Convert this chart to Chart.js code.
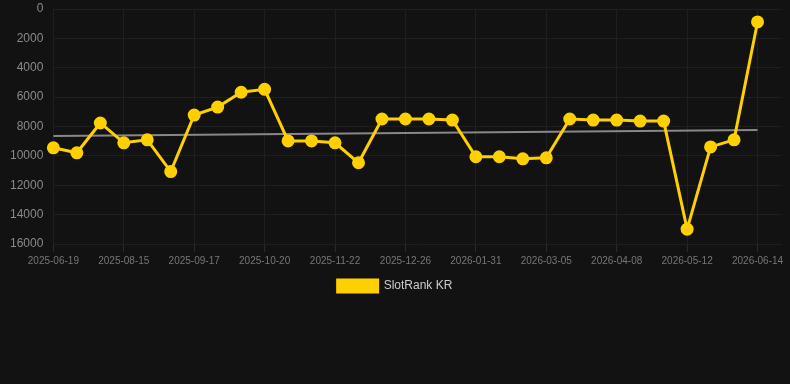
<!DOCTYPE html>
<html>
<head>
<meta charset="utf-8">
<script src="https://cdn.jsdelivr.net/npm/chart.js@4/dist/chart.umd.min.js"></script>
<style>
    html, body { margin: 0; padding: 0; background: #121212; }
    #wrap { width: 790px; height: 384px; }
</style>
</head>
<body>
<div id="wrap"><canvas id="rankChart"></canvas></div>
<script>
// dates on the x axis (last slot is empty, only every third one is labelled)
const dates = [
    "2025-06-19", "2025-06-28", "2025-07-06", "2025-08-15", "2025-08-24", "2025-09-02",
    "2025-09-17", "2025-09-26", "2025-10-08", "2025-10-20", "2025-10-29", "2025-11-10",
    "2025-11-22", "2025-12-01", "2025-12-14", "2025-12-26", "2026-01-05", "2026-01-18",
    "2026-01-31", "2026-02-10", "2026-02-22", "2026-03-05", "2026-03-15", "2026-03-27",
    "2026-04-08", "2026-04-19", "2026-04-30", "2026-05-12", "2026-05-22", "2026-06-02",
    "2026-06-14", "2026-06-25"
];

// rank values
const rankKR = [
    9450, 9790, 7760, 9110, 8910, 11070, 7220, 6680, 5670, 5470,
    8980, 8980, 9110, 10470, 7490, 7490, 7490, 7560, 10060, 10060,
    10200, 10130, 7490, 7560, 7560, 7630, 7630, 14990, 9390, 8910,
    880
];

// trend line end points
const trendStart = 8640;
const trendEnd = 8240;

const yTicks = [0, 2000, 4000, 6000, 8000, 10000, 12000, 14000, 16000];

let rankChart = null;

function drawChart() {
    if (rankChart) rankChart.destroy();

    rankChart = new Chart(document.getElementById("rankChart"), {
        type: "line",
        data: {
            labels: dates,
            datasets: [{
                label: "SlotRank KR",
                data: rankKR,
                borderColor: "#ffd000",
                backgroundColor: "#ffd000",
                borderWidth: 3,
                pointRadius: 5,
                pointHoverRadius: 6,
                tension: 0
            }, {
                label: "trend",
                data: [
                    { x: dates[0], y: trendStart },
                    { x: dates[rankKR.length - 1], y: trendEnd }
                ],
                borderColor: "#888888",
                borderWidth: 2,
                pointRadius: 0,
                fill: false
            }]
        },
        options: {
            responsive: true,
            maintainAspectRatio: false,
            animation: false,
            layout: { padding: { left: 0, right: 0, top: 0, bottom: 82 } },
            plugins: {
                legend: {
                    position: "bottom",
                    labels: {
                        color: "#cccccc",
                        font: { size: 12 },
                        boxWidth: 40,
                        boxHeight: 12,
                        filter: item => item.text !== "trend"
                    }
                },
                tooltip: { enabled: false }
            },
            scales: {
                x: {
                    grid: { color: "#1f1f1f", tickColor: "#2a2a2a" },
                    border: { color: "#1f1f1f" },
                    ticks: {
                        color: "#777777",
                        font: { size: 10 },
                        autoSkip: false,
                        maxRotation: 0,
                        callback: (v, i) => (i % 3 === 0 ? dates[i] : null)
                    }
                },
                y: {
                    reverse: true,
                    min: 0,
                    max: 16000,
                    afterBuildTicks: axis => { axis.ticks = yTicks.map(v => ({ value: v })); },
                    afterFit: axis => { axis.paddingTop = 4; axis.paddingBottom = 6; },
                    grid: { color: "#1f1f1f", drawTicks: false },
                    border: { display: false },
                    ticks: {
                        color: "#8a8a8a",
                        font: { size: 12 },
                        padding: 10,
                        callback: v => String(v)
                    }
                }
            }
        }
    });
}

document.addEventListener("DOMContentLoaded", drawChart);
</script>
</body>
</html>
